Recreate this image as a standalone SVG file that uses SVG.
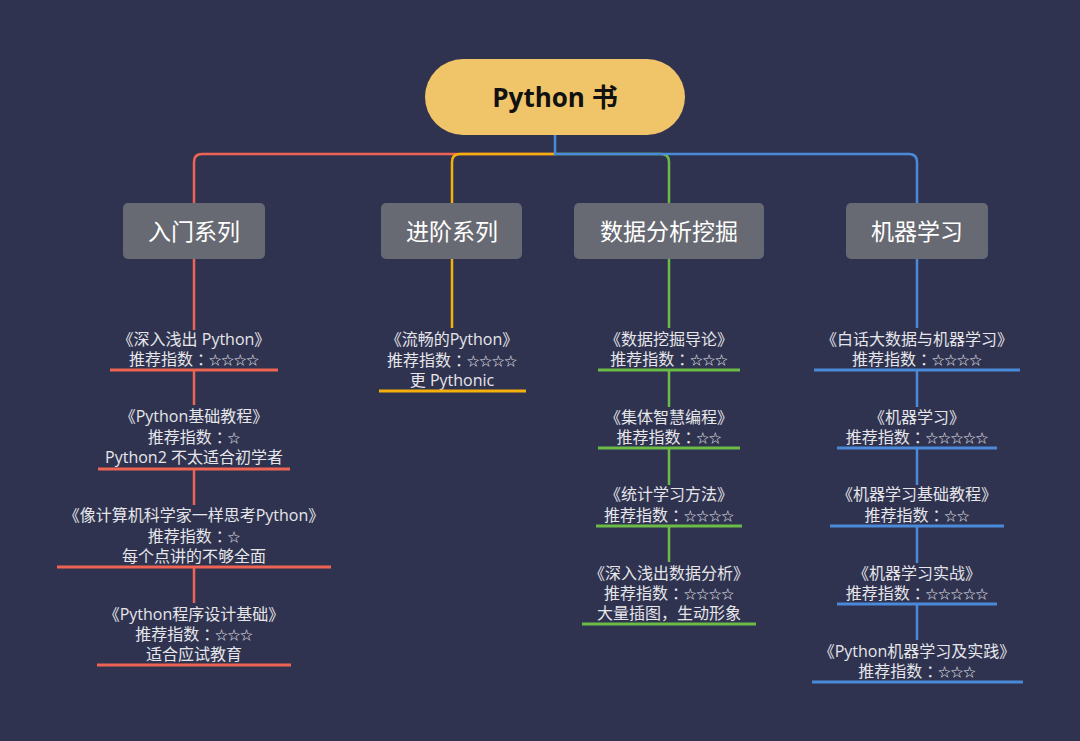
<svg xmlns="http://www.w3.org/2000/svg" width="1080" height="741" viewBox="0 0 1080 741">
<style>
.t{font-family:"Open Sans","Noto Sans CJK SC",sans-serif;font-size:16px;fill:#e6e6ea;text-anchor:middle;dominant-baseline:central}
.s{font-family:"Noto Sans CJK SC",sans-serif;font-size:12.5px}
.k{font-family:"Noto Sans CJK TC",sans-serif}
.cat{font-family:"Open Sans","Noto Sans CJK SC",sans-serif;font-size:23px;fill:#ffffff;text-anchor:middle;dominant-baseline:central}
.box{fill:#676a73}
.c{fill:none;stroke-width:2.5;stroke-linecap:butt}
.u{stroke-width:3}
.r{stroke:#ee6453}.o{stroke:#f5b00c}.g{stroke:#6cbb47}.b{stroke:#4a8ad8}
</style>
<rect x="0" y="0" width="1080" height="741" fill="#2f3350"/>
<g id="connectors">
<path class="c r" d="M555,154 H202 Q194,154 194,162 V203"/>
<path class="c g" d="M555,154 H661 Q669,154 669,162 V203"/>
<path class="c o" d="M555,154 H460 Q452,154 452,162 V203"/>
<path class="c b" d="M555,135 V154 H909 Q917,154 917,162 V203"/>
<path class="c r" d="M194,259 V330 M194,370 V405 M194,469 V505 M194,567 V603"/>
<path class="c o" d="M452,259 V328"/>
<path class="c g" d="M669,259 V328 M669,370 V407 M669,448 V485 M669,526 V562"/>
<path class="c b" d="M917,259 V328 M917,370 V407 M917,448 V485 M917,526 V563 M917,604 V640"/>
</g>
<g id="root">
<rect x="425" y="59" width="260" height="76" rx="38" fill="#f0c468"/>
<text x="555" y="97" font-family="'Open Sans','Noto Sans CJK SC',sans-serif" font-size="26" font-weight="bold" fill="#111" text-anchor="middle" dominant-baseline="central">Python 书</text>
</g>
<g id="cat1"><rect class="box" x="123" y="203" width="142" height="56" rx="5"/><text class="cat" x="194" y="231">入门系列</text></g>
<g id="cat2"><rect class="box" x="381" y="203" width="141" height="56" rx="5"/><text class="cat" x="452" y="231">进阶系列</text></g>
<g id="cat3"><rect class="box" x="574" y="203" width="190" height="56" rx="5"/><text class="cat" x="669" y="231">数据分析挖掘</text></g>
<g id="cat4"><rect class="box" x="846" y="203" width="142" height="56" rx="5"/><text class="cat" x="917" y="231">机器学习</text></g>

<g id="b1-1"><text class="t"><tspan x="194" y="339">《深入浅出 Python》</tspan><tspan x="194" y="359">推荐指数<tspan class="k">：</tspan><tspan class="s">☆☆☆☆</tspan></tspan></text><line class="u r" x1="110" y1="370" x2="278" y2="370"/></g>
<g id="b1-2"><text class="t"><tspan x="194" y="416">《Python基础教程》</tspan><tspan x="194" y="437">推荐指数<tspan class="k">：</tspan><tspan class="s">☆</tspan></tspan><tspan x="194" y="457">Python2 不太适合初学者</tspan></text><line class="u r" x1="98" y1="469" x2="290" y2="469"/></g>
<g id="b1-3"><text class="t"><tspan x="194" y="515">《像计算机科学家一样思考Python》</tspan><tspan x="194" y="536">推荐指数<tspan class="k">：</tspan><tspan class="s">☆</tspan></tspan><tspan x="194" y="556">每个点讲的不够全面</tspan></text><line class="u r" x1="57" y1="567" x2="331" y2="567"/></g>
<g id="b1-4"><text class="t"><tspan x="194" y="614">《Python程序设计基础》</tspan><tspan x="194" y="634">推荐指数<tspan class="k">：</tspan><tspan class="s">☆☆☆</tspan></tspan><tspan x="194" y="654">适合应试教育</tspan></text><line class="u r" x1="97" y1="665" x2="291" y2="665"/></g>

<g id="b2-1"><text class="t"><tspan x="452" y="339">《流畅的Python》</tspan><tspan x="452" y="360">推荐指数<tspan class="k">：</tspan><tspan class="s">☆☆☆☆</tspan></tspan><tspan x="452" y="380">更 Pythonic</tspan></text><line class="u o" x1="379" y1="391" x2="526" y2="391"/></g>

<g id="b3-1"><text class="t"><tspan x="669" y="339">《数据挖掘导论》</tspan><tspan x="669" y="359">推荐指数<tspan class="k">：</tspan><tspan class="s">☆☆☆</tspan></tspan></text><line class="u g" x1="598" y1="370" x2="740" y2="370"/></g>
<g id="b3-2"><text class="t"><tspan x="669" y="417">《集体智慧编程》</tspan><tspan x="669" y="437">推荐指数<tspan class="k">：</tspan><tspan class="s">☆☆</tspan></tspan></text><line class="u g" x1="598" y1="448" x2="740" y2="448"/></g>
<g id="b3-3"><text class="t"><tspan x="669" y="494">《统计学习方法》</tspan><tspan x="669" y="515">推荐指数<tspan class="k">：</tspan><tspan class="s">☆☆☆☆</tspan></tspan></text><line class="u g" x1="596" y1="526" x2="742" y2="526"/></g>
<g id="b3-4"><text class="t"><tspan x="669" y="573">《深入浅出数据分析》</tspan><tspan x="669" y="593">推荐指数<tspan class="k">：</tspan><tspan class="s">☆☆☆☆</tspan></tspan><tspan x="669" y="613">大量插图，生动形象</tspan></text><line class="u g" x1="582" y1="624" x2="756" y2="624"/></g>

<g id="b4-1"><text class="t"><tspan x="917" y="339">《白话大数据与机器学习》</tspan><tspan x="917" y="359">推荐指数<tspan class="k">：</tspan><tspan class="s">☆☆☆☆</tspan></tspan></text><line class="u b" x1="814" y1="370" x2="1020" y2="370"/></g>
<g id="b4-2"><text class="t"><tspan x="917" y="417">《机器学习》</tspan><tspan x="917" y="437">推荐指数<tspan class="k">：</tspan><tspan class="s">☆☆☆☆☆</tspan></tspan></text><line class="u b" x1="837" y1="448" x2="997" y2="448"/></g>
<g id="b4-3"><text class="t"><tspan x="917" y="494">《机器学习基础教程》</tspan><tspan x="917" y="515">推荐指数<tspan class="k">：</tspan><tspan class="s">☆☆</tspan></tspan></text><line class="u b" x1="830" y1="526" x2="1004" y2="526"/></g>
<g id="b4-4"><text class="t"><tspan x="917" y="573">《机器学习实战》</tspan><tspan x="917" y="593">推荐指数<tspan class="k">：</tspan><tspan class="s">☆☆☆☆☆</tspan></tspan></text><line class="u b" x1="837" y1="604" x2="997" y2="604"/></g>
<g id="b4-5"><text class="t"><tspan x="917" y="651">《Python机器学习及实践》</tspan><tspan x="917" y="671">推荐指数<tspan class="k">：</tspan><tspan class="s">☆☆☆</tspan></tspan></text><line class="u b" x1="812" y1="682" x2="1023" y2="682"/></g>
</svg>
